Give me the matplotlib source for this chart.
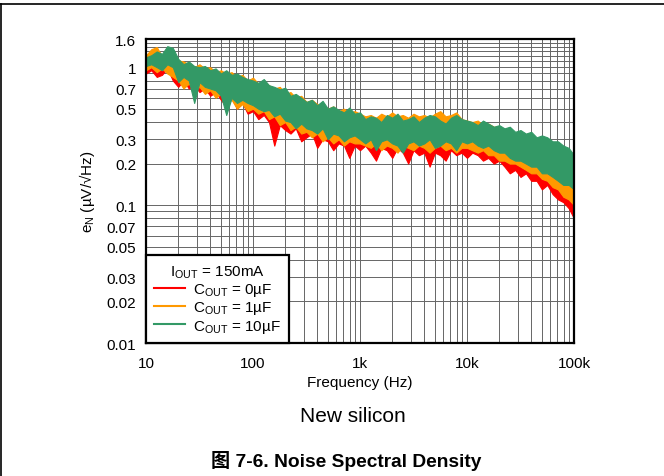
import numpy as np
import matplotlib.pyplot as plt
from matplotlib.lines import Line2D

plt.rcParams['font.family'] = ['Liberation Sans', 'DejaVu Sans']
plt.rcParams['mathtext.default'] = 'regular'

# frequency points (Hz)
freq = [10, 11.2, 12.6, 14.1, 15.8, 17.8, 20, 22.4, 25.1, 28.2,
        31.6, 35.5, 39.8, 44.7, 50.1, 56.2, 63.1, 70.8, 79.4, 89.1,
        100, 112, 126, 141, 158, 178, 200, 224, 251, 282,
        316, 355, 398, 447, 501, 562, 631, 708, 794, 891,
        1000, 1120, 1260, 1410, 1580, 1780, 2000, 2240, 2510, 2820,
        3160, 3550, 3980, 4470, 5010, 5620, 6310, 7080, 7940, 8910,
        10000, 11200, 12600, 14100, 15800, 17800, 20000, 22400, 25100, 28200,
        31600, 35500, 39800, 44700, 50100, 56200, 63100, 70800, 79400, 89100,
        100000]

# noise band envelopes (uV/rtHz)
red_hi = [1.10, 1.15, 1.10, 1.05, 1.15, 1.10, 0.98, 0.95, 0.92, 0.90,
          0.88, 0.86, 0.84, 0.82, 0.78, 0.76, 0.74, 0.72, 0.70, 0.68,
          0.66, 0.64, 0.62, 0.60, 0.58, 0.55, 0.52, 0.50, 0.48, 0.46,
          0.45, 0.44, 0.42, 0.41, 0.40, 0.39, 0.40, 0.38, 0.37, 0.36,
          0.36, 0.35, 0.35, 0.34, 0.35, 0.34, 0.35, 0.34, 0.34, 0.33,
          0.34, 0.33, 0.34, 0.33, 0.34, 0.33, 0.33, 0.32, 0.33, 0.32,
          0.32, 0.31, 0.31, 0.30, 0.30, 0.29, 0.28, 0.27, 0.26, 0.25,
          0.24, 0.23, 0.22, 0.21, 0.20, 0.19, 0.18, 0.17, 0.16, 0.15,
          0.13]
red_lo = [0.90, 0.95, 0.85, 0.88, 0.98, 0.80, 0.72, 0.80, 0.70, 0.74,
          0.66, 0.70, 0.62, 0.66, 0.58, 0.52, 0.60, 0.50, 0.55, 0.46,
          0.48, 0.42, 0.45, 0.40, 0.27, 0.38, 0.35, 0.33, 0.36, 0.29,
          0.31, 0.33, 0.26, 0.30, 0.29, 0.25, 0.28, 0.27, 0.22, 0.27,
          0.25, 0.27, 0.24, 0.21, 0.26, 0.25, 0.22, 0.26, 0.24, 0.20,
          0.25, 0.23, 0.24, 0.19, 0.24, 0.23, 0.21, 0.25, 0.23, 0.24,
          0.22, 0.24, 0.23, 0.21, 0.22, 0.20, 0.21, 0.19, 0.17, 0.18,
          0.16, 0.17, 0.15, 0.15, 0.13, 0.14, 0.12, 0.11, 0.105, 0.095,
          0.08]
orange_hi = [1.22, 1.35, 1.40, 1.20, 1.30, 1.25, 1.12, 1.10, 1.05, 1.00,
             1.05, 0.98, 1.00, 0.92, 0.95, 0.90, 0.92, 0.85, 0.88, 0.80,
             0.84, 0.76, 0.78, 0.74, 0.70, 0.72, 0.64, 0.66, 0.60, 0.62,
             0.56, 0.58, 0.54, 0.52, 0.50, 0.52, 0.48, 0.50, 0.47, 0.48,
             0.46, 0.44, 0.45, 0.43, 0.46, 0.44, 0.47, 0.44, 0.45, 0.43,
             0.46, 0.44, 0.45, 0.43, 0.46, 0.48, 0.44, 0.45, 0.47, 0.42,
             0.41, 0.40, 0.41, 0.38, 0.39, 0.37, 0.37, 0.35, 0.35, 0.33,
             0.33, 0.31, 0.31, 0.29, 0.29, 0.27, 0.26, 0.25, 0.23, 0.22,
             0.20]
orange_lo = [0.95, 1.00, 0.92, 0.98, 0.90, 0.85, 0.80, 0.70, 0.76, 0.68,
             0.72, 0.64, 0.68, 0.60, 0.64, 0.55, 0.58, 0.50, 0.54, 0.48,
             0.50, 0.46, 0.48, 0.42, 0.44, 0.38, 0.40, 0.35, 0.37, 0.33,
             0.34, 0.31, 0.33, 0.29, 0.31, 0.28, 0.30, 0.27, 0.29, 0.28,
             0.28, 0.27, 0.26, 0.28, 0.25, 0.27, 0.26, 0.24, 0.27, 0.26,
             0.25, 0.27, 0.26, 0.24, 0.26, 0.27, 0.25, 0.26, 0.24, 0.26,
             0.26, 0.25, 0.24, 0.25, 0.23, 0.23, 0.21, 0.21, 0.20, 0.20,
             0.19, 0.18, 0.17, 0.17, 0.155, 0.15, 0.135, 0.13, 0.115, 0.11,
             0.10]
green_hi = [1.18, 1.22, 1.30, 1.25, 1.42, 1.38, 1.15, 1.05, 1.10, 1.02,
            1.00, 1.02, 0.95, 0.98, 0.90, 0.95, 0.88, 0.90, 0.85, 0.82,
            0.80, 0.77, 0.82, 0.74, 0.72, 0.69, 0.71, 0.62, 0.64, 0.60,
            0.56, 0.58, 0.53, 0.57, 0.50, 0.52, 0.49, 0.47, 0.51, 0.46,
            0.47, 0.42, 0.44, 0.43, 0.40, 0.45, 0.43, 0.46, 0.41, 0.42,
            0.44, 0.40, 0.43, 0.45, 0.44, 0.41, 0.39, 0.43, 0.45, 0.42,
            0.41, 0.40, 0.38, 0.41, 0.39, 0.37, 0.38, 0.36, 0.37, 0.34,
            0.35, 0.33, 0.34, 0.31, 0.32, 0.31, 0.29, 0.29, 0.27, 0.26,
            0.23]
green_lo = [1.02, 1.05, 1.00, 0.95, 1.05, 1.00, 0.78, 0.85, 0.80, 0.55,
            0.78, 0.72, 0.70, 0.68, 0.62, 0.45, 0.60, 0.55, 0.58, 0.55,
            0.53, 0.50, 0.48, 0.49, 0.44, 0.46, 0.41, 0.40, 0.36, 0.39,
            0.36, 0.35, 0.33, 0.36, 0.30, 0.33, 0.32, 0.29, 0.31, 0.32,
            0.30, 0.28, 0.30, 0.25, 0.29, 0.30, 0.28, 0.27, 0.24, 0.28,
            0.29, 0.27, 0.28, 0.30, 0.26, 0.27, 0.29, 0.28, 0.25, 0.29,
            0.28, 0.29, 0.27, 0.26, 0.27, 0.25, 0.24, 0.24, 0.22, 0.21,
            0.21, 0.20, 0.19, 0.19, 0.17, 0.17, 0.16, 0.15, 0.14, 0.14,
            0.13]

labels = [r'C$_{OUT}$ = 0µF', r'C$_{OUT}$ = 1µF', r'C$_{OUT}$ = 10µF']
colors = ['#ff0000', '#ff9900', '#339966']

xticks = [10, 100, 1000, 10000, 100000]
xticklabels = ['10', '100', '1k', '10k', '100k']
ylabeled = [0.01, 0.02, 0.03, 0.05, 0.07, 0.1, 0.2, 0.3, 0.5, 0.7, 1, 1.6]

fig = plt.figure(figsize=(6.64, 4.77), dpi=100)
ax = fig.add_axes([0.2199, 0.2788, 0.6446, 0.6373])

bands = [(red_lo, red_hi), (orange_lo, orange_hi), (green_lo, green_hi)]
for (lo, hi), c in zip(bands, colors):
    ax.fill_between(freq, lo, hi, color=c, lw=0.8, edgecolor=c, zorder=3)

ax.set_xscale('log')
ax.set_yscale('log')
ax.set_xlim(10, 100000)
ax.set_ylim(0.01, 1.6)

# grid on every decade step
xgrid = [m * 10 ** d for d in range(1, 5) for m in range(1, 10)] + [100000]
ygrid = [round(m * 10 ** d, 4) for d in (-2, -1) for m in range(1, 10)] + [1, 1.1, 1.2, 1.3, 1.4, 1.5, 1.6]
ax.set_xticks(xgrid)
ax.set_xticklabels([xticklabels[xticks.index(v)] if v in xticks else '' for v in xgrid])
ax.set_yticks(ygrid)
ax.set_yticklabels([('%g' % v) if v in ylabeled else '' for v in ygrid])
ax.minorticks_off()
ax.tick_params(axis='y', length=0, labelsize=11, pad=7)
ax.tick_params(axis='x', length=0, labelsize=11, pad=9)
ax.grid(True, color='0.4', lw=0.7, zorder=1)
ax.set_axisbelow(True)
for s in ax.spines.values():
    s.set_linewidth(1.6)
    s.set_zorder(5)

ax.set_xlabel('Frequency (Hz)', fontsize=11, labelpad=4)
ax.set_ylabel(r'e$_N$ (µV/√Hz)', fontsize=11, labelpad=7)

handles = [Line2D([], [], color=c, lw=1.5) for c in colors]
leg = ax.legend(handles, labels, title=r'I$_{OUT}$ = 150mA', loc='lower left',
                bbox_to_anchor=(0, 0), fontsize=11, title_fontsize=11,
                fancybox=False, framealpha=1, edgecolor='black',
                borderaxespad=0, handlelength=2.0, labelspacing=0.08,
                borderpad=0.55, handletextpad=0.5)
leg.get_frame().set_linewidth(1.6)
leg.set_zorder(6)

fig.text(0.531, 0.126, 'New silicon', ha='center', va='center', fontsize=15)
fig.text(0.522, 0.034, '图 7-6. Noise Spectral Density', ha='center', va='center',
         fontsize=13.8, fontweight='bold', family=['Liberation Sans', 'Noto Sans CJK SC'])

fig.add_artist(Line2D([0, 1], [0.9895, 0.9895], color='black', lw=1.2))
fig.add_artist(Line2D([0.001, 0.001], [0, 0.9895], color='black', lw=1.2))

fig.savefig('out.png', dpi=100)
